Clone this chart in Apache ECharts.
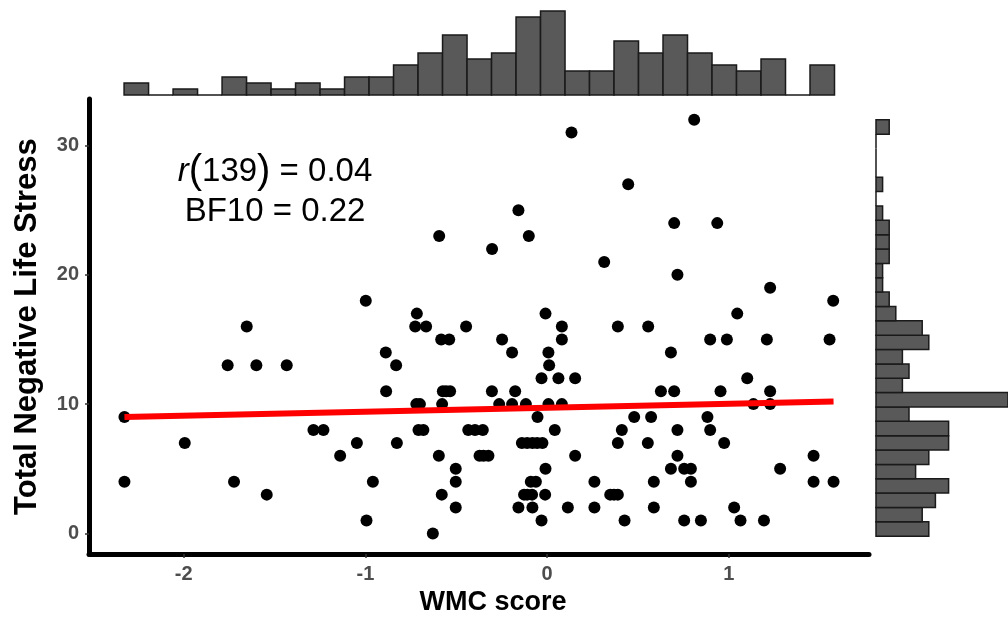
<!DOCTYPE html>
<html>
<head>
<meta charset="utf-8">
<title>WMC score vs Total Negative Life Stress</title>
<script src="https://cdn.jsdelivr.net/npm/echarts@6.0.0/dist/echarts.min.js"></script>
<style>
  html, body { margin: 0; padding: 0; background: #fff; }
  #container-scatter { width: 1008px; height: 621px; }
</style>
</head>
<body>
<div id="container-scatter"></div>
<script>
// scatter points, one line per stress level
const wmcScore = [
  -0.629,
  -0.994, -0.031, 0.426, 0.754, 0.846, 1.064, 1.193,
  -0.503, -0.158, -0.081, 0.114, 0.26, 0.587, 1.029,
  -1.543, -0.58, -0.127, -0.11, -0.083, -0.011, 0.347, 0.368, 0.389,
  -2.326, -1.723, -0.959, -0.503, -0.09, -0.062, 0.26, 0.587, 0.791, 1.466, 1.576,
  -0.503, -0.009, 0.681, 0.754, 0.791, 1.282,
  -1.139, -0.596, -0.372, -0.35, -0.323, 0.154, 0.717, 1.466,
  -1.994, -1.047, -0.827, -0.139, -0.11, -0.081, -0.055, -0.026, 0.389, 0.554, 0.974,
  -1.286, -1.231, -0.708, -0.681, -0.434, -0.397, -0.354, 0.042, 0.411, 0.717, 0.897,
  -2.326, -0.053, 0.479, 0.572, 0.882,
  -0.72, -0.70, -0.578, -0.264, -0.193, -0.117, 0.007, 0.081, 1.135, 1.227,
  -0.886, -0.574, -0.556, -0.534, -0.304, -0.176, 0.626, 0.699, 0.954, 1.227,
  -0.031, 0.062, 0.154, 1.101,
  -1.758, -1.60, -1.433, -0.831, 0.011,
  -0.888, -0.193, 0.007, 0.681,
  -0.583, -0.539, -0.248, 0.081, 0.897, 0.989, 1.209, 1.554,
  -1.653, -0.726, -0.666, -0.446, 0.081, 0.389, 0.556,
  -0.717, -0.009, 1.046,
  -0.998, 1.574,
  1.227,
  0.717,
  0.314,
  -0.303,
  -0.594, -0.101,
  0.699, 0.936,
  -0.158,
  0.446,
  0.134,
  0.809
];
const lifeStress = [
  0,
  1, 1, 1, 1, 1, 1, 1,
  2, 2, 2, 2, 2, 2, 2,
  3, 3, 3, 3, 3, 3, 3, 3, 3,
  4, 4, 4, 4, 4, 4, 4, 4, 4, 4, 4,
  5, 5, 5, 5, 5, 5,
  6, 6, 6, 6, 6, 6, 6, 6,
  7, 7, 7, 7, 7, 7, 7, 7, 7, 7, 7,
  8, 8, 8, 8, 8, 8, 8, 8, 8, 8, 8,
  9, 9, 9, 9, 9,
  10, 10, 10, 10, 10, 10, 10, 10, 10, 10,
  11, 11, 11, 11, 11, 11, 11, 11, 11, 11,
  12, 12, 12, 12,
  13, 13, 13, 13, 13,
  14, 14, 14, 14,
  15, 15, 15, 15, 15, 15, 15, 15,
  16, 16, 16, 16, 16, 16, 16,
  17, 17, 17,
  18, 18,
  19,
  20,
  21,
  22,
  23, 23,
  24, 24,
  25,
  27,
  31,
  32
];

// fitted line end points
const fitX = [-2.326, 1.576];
const fitY = [9.0, 10.2];

const xTicks = [-2, -1, 0, 1];
const yTicks = [0, 10, 20, 30];

// marginal histograms (counts per bin)
const topBinStart = -2.328;
const topBinWidth = 0.1348;
const topCounts = [2, 0, 1, 0, 3, 2, 1, 2, 1, 3, 3, 5, 7, 10, 6, 7, 13, 14, 4, 4, 9, 7, 10, 7, 5, 4, 6, 0, 5];
const sideBinStart = 0;
const sideBinWidth = 1.1034;
const sideCounts = [8, 7, 9, 11, 6, 8, 11, 11, 5, 20, 4, 5, 4, 8, 7, 3, 2, 1, 1, 2, 2, 2, 1, 0, 1, 0, 0, 0, 2];

const FONT = "'Liberation Sans', Arial, sans-serif";
const X_MIN = -2.521, X_MAX = 1.771;
const Y_MIN = -1.6, Y_MAX = 33.6;

let chartDom = document.getElementById('container-scatter');
let myChart = echarts.init(chartDom, null, { renderer: 'canvas' });

const barStyle = { fill: '#595959', stroke: '#1a1a1a', lineWidth: 1.5 };

function renderTopBar(params, api) {
  let lo = api.coord([api.value(0), 0]);
  let hi = api.coord([api.value(1), api.value(2)]);
  return {
    type: 'rect',
    shape: { x: lo[0], y: hi[1], width: hi[0] - lo[0], height: lo[1] - hi[1] },
    style: barStyle
  };
}

function renderSideBar(params, api) {
  let lo = api.coord([0, api.value(0)]);
  let hi = api.coord([api.value(2), api.value(1)]);
  return {
    type: 'rect',
    shape: { x: lo[0], y: hi[1], width: hi[0] - lo[0], height: lo[1] - hi[1] },
    style: barStyle
  };
}

const tickLabel = { fontFamily: FONT, fontSize: 20, fontWeight: 'bold', color: '#4d4d4d' };

let option = {
  animation: false,
  backgroundColor: '#ffffff',
  graphic: [
    {
      type: 'text',
      x: 275,
      y: 192,
      style: {
        text: '{i|r}{p|(}139{p|)} = 0.04\nBF10 = 0.22',
        fontFamily: FONT,
        fontSize: 33,
        fill: '#000',
        align: 'center',
        verticalAlign: 'middle',
        lineHeight: 40,
        rich: {
          i: { fontStyle: 'italic', fontSize: 33, fontFamily: FONT, fill: '#000' },
          p: { fontSize: 40, fontFamily: FONT, fill: '#000' }
        }
      }
    }
  ],
  grid: [
    { left: 89, top: 99, width: 780, height: 458 },
    { left: 89, top: 11, width: 780, height: 84 },
    { left: 876, top: 99, width: 142, height: 458 }
  ],
  xAxis: [
    {
      gridIndex: 0,
      type: 'value',
      min: X_MIN,
      max: X_MAX,
      name: 'WMC score',
      nameLocation: 'middle',
      nameGap: 34,
      nameTextStyle: { fontFamily: FONT, fontSize: 27, fontWeight: 'bold', color: '#000', padding: [0, 0, 0, 28] },
      axisLine: { show: true, onZero: false, lineStyle: { color: '#000', width: 5 } },
      axisTick: { show: true, length: 4, customValues: xTicks, lineStyle: { color: '#333', width: 1.5 } },
      axisLabel: Object.assign({ margin: 10, customValues: xTicks }, tickLabel),
      splitLine: { show: false }
    },
    { gridIndex: 1, type: 'value', min: X_MIN, max: X_MAX, show: false },
    { gridIndex: 2, type: 'value', min: 0, max: 20, show: false }
  ],
  yAxis: [
    {
      gridIndex: 0,
      type: 'value',
      min: Y_MIN,
      max: Y_MAX,
      name: 'Total Negative Life Stress',
      nameLocation: 'middle',
      nameGap: 46,
      nameRotate: 90,
      nameTextStyle: { fontFamily: FONT, fontSize: 31, fontWeight: 'bold', color: '#000' },
      axisLine: { show: true, onZero: false, lineStyle: { color: '#000', width: 5 } },
      axisTick: { show: true, length: 4, customValues: yTicks, lineStyle: { color: '#333', width: 1.5 } },
      axisLabel: Object.assign({ margin: 10, customValues: yTicks }, tickLabel),
      splitLine: { show: false }
    },
    { gridIndex: 1, type: 'value', min: 0, max: 14, show: false },
    { gridIndex: 2, type: 'value', min: Y_MIN, max: Y_MAX, show: false }
  ],
  series: [
    {
      type: 'scatter',
      xAxisIndex: 0,
      yAxisIndex: 0,
      symbolSize: 12,
      itemStyle: { color: '#000', opacity: 1 },
      data: wmcScore.map((x, i) => [x, lifeStress[i]]),
      z: 2
    },
    {
      type: 'line',
      xAxisIndex: 0,
      yAxisIndex: 0,
      showSymbol: false,
      lineStyle: { color: '#ff0000', width: 6 },
      data: fitX.map((x, i) => [x, fitY[i]]),
      z: 3
    },
    {
      type: 'custom',
      xAxisIndex: 1,
      yAxisIndex: 1,
      renderItem: renderTopBar,
      encode: { x: [0, 1], y: 2 },
      data: topCounts.map((c, i) => [topBinStart + i * topBinWidth, topBinStart + (i + 1) * topBinWidth, c])
    },
    {
      type: 'custom',
      xAxisIndex: 2,
      yAxisIndex: 2,
      renderItem: renderSideBar,
      encode: { x: 2, y: [0, 1] },
      data: sideCounts.map((c, i) => [sideBinStart + i * sideBinWidth, sideBinStart + (i + 1) * sideBinWidth, c])
    }
  ]
};

option && myChart.setOption(option);
</script>
</body>
</html>
